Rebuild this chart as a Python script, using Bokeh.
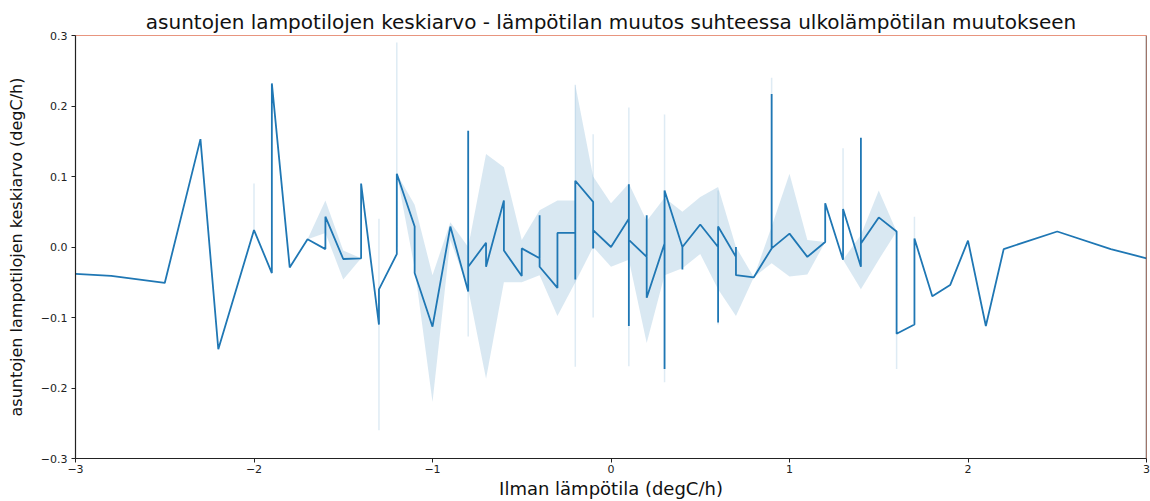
from bokeh.plotting import figure
from bokeh.models import Range1d, FixedTicker, Span, CustomJSTickFormatter
from bokeh.embed import file_html
from bokeh.resources import INLINE

# ---- data ----
temp_x = [
    -3.0, -2.8, -2.5, -2.3, -2.2, -2.0,
    -1.9, -1.9, -1.8, -1.7, -1.6, -1.6, -1.5,
    -1.4, -1.4, -1.3, -1.3, -1.2, -1.2, -1.1, -1.1, -1.0,
    -0.9, -0.8, -0.8, -0.8, -0.7, -0.7, -0.6, -0.6, -0.5, -0.5,
    -0.4, -0.4, -0.4, -0.3, -0.3, -0.2, -0.2, -0.2, -0.1, -0.1, -0.1,
    0.0, 0.1, 0.1, 0.1, 0.1, 0.2, 0.2, 0.2, 0.3, 0.3, 0.3,
    0.4, 0.4, 0.4, 0.5, 0.6, 0.6, 0.6, 0.7, 0.7, 0.7, 0.8,
    0.9, 0.9, 0.9, 1.0, 1.1, 1.2, 1.2, 1.3, 1.3, 1.4, 1.4, 1.4,
    1.5, 1.6, 1.6, 1.7, 1.7, 1.8, 1.9, 2.0, 2.1, 2.2, 2.5, 2.8, 3.0,
]
mean_change = [
    -0.038, -0.041, -0.051, 0.153, -0.145, 0.024,
    -0.037, 0.232, -0.029, 0.011, -0.003, 0.043, -0.017,
    -0.016, 0.090, -0.110, -0.060, -0.010, 0.104, 0.029, -0.037, -0.113,
    0.029, -0.063, 0.165, -0.028, 0.006, -0.028, 0.066, -0.005, -0.041, -0.002,
    -0.016, 0.045, -0.028, -0.058, 0.020, 0.020, -0.046, 0.094, 0.064, -0.002, 0.024,
    0.000, 0.040, 0.089, -0.112, 0.010, -0.014, 0.045, -0.072, 0.005, -0.173, 0.080,
    0.000, -0.032, 0.000, 0.032, 0.000, -0.107, 0.029, -0.014, 0.000, -0.040, -0.043,
    -0.002, 0.217, -0.002, 0.019, -0.014, 0.007, 0.062, -0.018, 0.054, -0.028, 0.155, 0.005,
    0.042, 0.022, -0.123, -0.110, 0.012, -0.070, -0.054, 0.009, -0.112, -0.003, 0.022, -0.003, -0.016,
]
assert len(temp_x) == len(mean_change)

# confidence band (lower / upper) where several observations exist
band_x = [-1.7, -1.6, -1.5, -1.4, -1.3, -1.2, -1.1, -1.0, -0.9, -0.8, -0.7, -0.6,
          -0.5, -0.4, -0.3, -0.2, -0.2, -0.1, 0.0, 0.1, 0.2, 0.3, 0.4, 0.5, 0.6,
          0.7, 0.8, 0.9, 1.0, 1.1, 1.2, 1.3, 1.4, 1.5, 1.6]
band_lo = [0.011, 0.020, -0.046, -0.016, -0.060, 0.104, -0.030, -0.220, 0.010, -0.060, -0.187, -0.050,
           -0.050, -0.040, -0.098, -0.050, -0.050, 0.000, -0.028, -0.018, -0.136, -0.040, -0.030, -0.010, -0.060,
           -0.098, -0.043, -0.023, -0.042, -0.039, 0.007, -0.018, -0.060, -0.018, 0.022]
band_hi = [0.011, 0.066, -0.005, -0.016, -0.060, 0.104, 0.060, -0.040, 0.035, 0.000, 0.132, 0.113,
           0.010, 0.052, 0.066, 0.066, 0.230, 0.100, 0.062, 0.090, 0.037, 0.070, 0.050, 0.071, 0.085,
           0.000, -0.043, 0.029, 0.104, 0.010, 0.007, -0.018, 0.017, 0.080, 0.022]
assert len(band_x) == len(band_lo) == len(band_hi)

# thin interval slivers at near-duplicate x values
spike_x = [-2.0, -1.3, -1.2, -0.8, -0.2, -0.1, 0.1, 0.3, 0.6, 0.9, 1.3, 1.6, 1.7]
spike_lo = [0.024, -0.260, 0.000, -0.127, -0.170, -0.100, -0.169, -0.192, -0.110, 0.000, 0.050, -0.173, 0.012]
spike_hi = [0.090, 0.040, 0.290, 0.165, 0.230, 0.160, 0.198, 0.188, 0.080, 0.240, 0.140, -0.120, 0.043]

x_ticks = [-3, -2, -1, 0, 1, 2, 3]
y_ticks = [-0.3, -0.2, -0.1, 0.0, 0.1, 0.2, 0.3]

title = "asuntojen lampotilojen keskiarvo - lämpötilan muutos suhteessa ulkolämpötilan muutokseen"
x_label = "Ilman lämpötila (degC/h)"
y_label = "asuntojen lampotilojen keskiarvo (degC/h)"

BLUE = "#1f77b4"
FONT = "DejaVu Sans"

p = figure(width=1150, height=501,
           x_range=Range1d(-3, 3), y_range=Range1d(-0.3, 0.3),
           output_backend="svg", toolbar_location=None,
           min_border_left=75, min_border_top=35, min_border_bottom=41, min_border_right=4,
           title=title)

p.title.text_font = FONT
p.title.text_font_size = "20px"
p.title.text_font_style = "normal"
p.title.text_color = "#111111"
p.title.align = "center"
p.title.standoff = 3

p.grid.visible = False
p.background_fill_color = "white"
p.border_fill_color = "white"
p.outline_line_color = "#e8957f"
p.outline_line_width = 1

for ax in (p.xaxis, p.yaxis):
    ax.axis_line_color = "#222222"
    ax.axis_line_width = 1.2
    ax.major_tick_line_color = "#222222"
    ax.major_tick_out = 4
    ax.major_tick_in = 0
    ax.minor_tick_line_color = None
    ax.major_label_text_font = FONT
    ax.major_label_text_font_size = "11px"
    ax.major_label_text_color = "#222222"
    ax.axis_label_text_font = FONT
    ax.axis_label_text_font_style = "normal"
    ax.axis_label_text_color = "#111111"

p.xaxis.axis_label_text_font_size = "18px"
p.yaxis.axis_label_text_font_size = "16px"
p.xaxis.ticker = FixedTicker(ticks=x_ticks)
p.yaxis.ticker = FixedTicker(ticks=y_ticks)
p.xaxis.formatter = CustomJSTickFormatter(code="return tick.toFixed(0).replace('-', '\u2212');")
p.yaxis.formatter = CustomJSTickFormatter(code="return tick.toFixed(1).replace('-', '\u2212');")
p.xaxis.major_label_standoff = 2
p.yaxis.major_label_standoff = 4
p.xaxis.axis_label = x_label
p.yaxis.axis_label = y_label
p.xaxis.axis_label_standoff = 2
p.yaxis.axis_label_standoff = 12

p.varea(x=band_x, y1=band_lo, y2=band_hi, fill_color=BLUE, fill_alpha=0.17)
p.segment(x0=spike_x, y0=spike_lo, x1=spike_x, y1=spike_hi,
          line_color=BLUE, line_alpha=0.15, line_width=1.5)
p.line(temp_x, mean_change, line_color=BLUE, line_width=1.8)

p.add_layout(Span(location=p.x_range.end, dimension="height", line_color="#555555", line_width=1.5))

open("out.html", "w").write(file_html(p, INLINE))
